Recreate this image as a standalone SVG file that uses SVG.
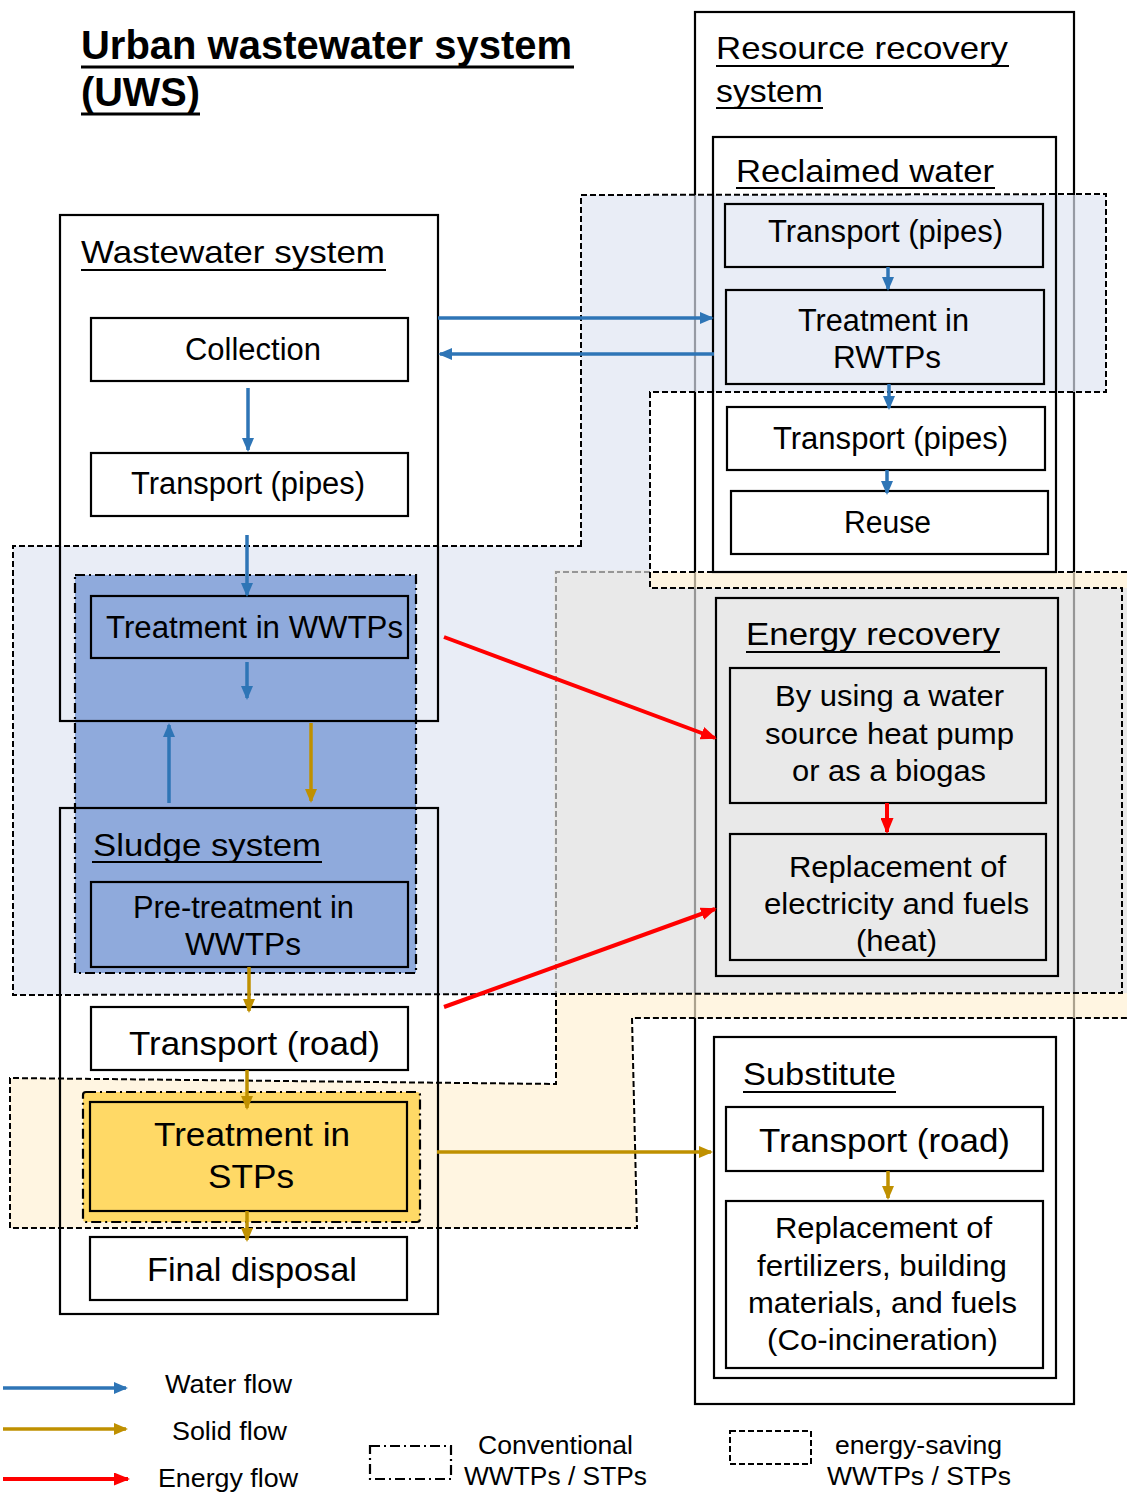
<svg xmlns="http://www.w3.org/2000/svg" width="1127" height="1492" viewBox="0 0 1127 1492">
  <defs>
    <style>
      text { font-family: "Liberation Sans", Arial, sans-serif; fill: #000; }
      .title { font-size: 40px; font-weight: bold; }
      .head { font-size: 32px; }
      .lbl { font-size: 31px; }
      .lbl30 { font-size: 30px; }
      .big { font-size: 33px; }
      .leg { font-size: 25px; }
      .box { fill: none; stroke: #000; stroke-width: 2.2; }
      .wbox { fill: #fff; stroke: #000; stroke-width: 2.2; }
      .ul { stroke: #000; stroke-width: 2; }
      .ul3 { stroke: #000; stroke-width: 3; }
      .save { fill: none; stroke: #000; stroke-width: 2; stroke-dasharray: 6 3; }
      .conv { stroke: #000; stroke-width: 2.2; stroke-dasharray: 10 4 2 4; }
      .water { stroke: #2E75B6; stroke-width: 3.5; fill: none; marker-end: url(#aw); }
      .solid { stroke: #BF9000; stroke-width: 3.5; fill: none; marker-end: url(#as); }
      .energy { stroke: #FF0000; stroke-width: 4; fill: none; marker-end: url(#ae); }
    </style>
    <marker id="aw" markerUnits="userSpaceOnUse" markerWidth="14" markerHeight="12" viewBox="0 0 14 12" refX="12" refY="6" orient="auto">
      <path d="M0,0 L14,6 L0,12 z" fill="#2E75B6"/>
    </marker>
    <marker id="as" markerUnits="userSpaceOnUse" markerWidth="14" markerHeight="12" viewBox="0 0 14 12" refX="12" refY="6" orient="auto">
      <path d="M0,0 L14,6 L0,12 z" fill="#BF9000"/>
    </marker>
    <marker id="ae" markerUnits="userSpaceOnUse" markerWidth="16" markerHeight="13" viewBox="0 0 16 13" refX="14" refY="6.5" orient="auto">
      <path d="M0,0 L16,6.5 L0,13 z" fill="#FF0000"/>
    </marker>
  </defs>

  <!-- outer container of the resource recovery side (drawn under the shaded zones) -->
  <g id="resource-recovery-frame">
    <rect class="box" x="695" y="12" width="379" height="1392"/>
  </g>

  <!-- shaded zones: energy-saving plants -->
  <g id="zones">
    <!-- sludge zone (cream) -->
    <path d="M650,572 L1127,572 L1127,588 L650,588 Z" fill="#FFF0D2" fill-opacity="0.675"/>
    <path d="M555,993 L1127,993 L1127,1018 L632,1018 L637,1228 L10,1228 L10,1078 L556,1084 Z" fill="#FFF0D2" fill-opacity="0.675"/>
    <path class="save" d="M1127,572 L556,572 L556,1084 L10,1078 L10,1228 L637,1228 L632,1018 L1127,1018"/>
    <!-- energy recovery zone (grey) -->
    <path d="M554,570 L650,570 L650,588 L1127,588 L1127,993 L554,993 Z" fill="#DEDEDE" fill-opacity="0.675"/>
    <!-- water zone (light blue) -->
    <path d="M581,195 L1106,195 L1106,392 L650,392 L650,570 L554,570 L554,995 L13,995 L13,546 L581,546 Z" fill="#DEE4F1" fill-opacity="0.675"/>
    <path class="save" d="M581,546 L581,195 L1106,194 L1106,392 L650,392 L650,588 L1122,588 L1122,993 L13,995 L13,546 Z"/>
  </g>

  <!-- conventional plants -->
  <g id="conventional-wwtp">
    <rect class="conv" x="75" y="575" width="341" height="398" fill="#8FAADC"/>
  </g>
  <g id="conventional-stp">
    <rect class="conv" x="83" y="1092" width="337" height="130" rx="3" fill="#FFD966"/>
  </g>

  <!-- title -->
  <g id="title">
    <text class="title" x="81" y="59" textLength="491" lengthAdjust="spacingAndGlyphs">Urban wastewater system</text>
    <line class="ul3" x1="81" y1="67" x2="574" y2="67"/>
    <text class="title" x="81" y="106" textLength="119" lengthAdjust="spacingAndGlyphs">(UWS)</text>
    <line class="ul3" x1="81" y1="114" x2="200" y2="114"/>
  </g>

  <!-- wastewater system -->
  <g id="wastewater-system">
    <rect class="box" x="60" y="215" width="378" height="506"/>
    <text class="head" x="81" y="263" textLength="304" lengthAdjust="spacingAndGlyphs">Wastewater system</text>
    <line class="ul" x1="81" y1="270" x2="386" y2="270"/>
  </g>
  <g id="collection">
    <rect class="wbox" x="91" y="318" width="317" height="63"/>
    <text class="lbl" x="185" y="360" textLength="136" lengthAdjust="spacingAndGlyphs">Collection</text>
  </g>
  <g id="transport-pipes-ww">
    <rect class="wbox" x="91" y="453" width="317" height="63"/>
    <text class="lbl" x="131" y="494" textLength="234" lengthAdjust="spacingAndGlyphs">Transport (pipes)</text>
  </g>
  <g id="treatment-wwtps">
    <rect class="box" x="91" y="596" width="317" height="62"/>
    <text class="lbl" x="106" y="638" textLength="297" lengthAdjust="spacingAndGlyphs">Treatment in WWTPs</text>
  </g>

  <!-- sludge system -->
  <g id="sludge-system">
    <rect class="box" x="60" y="808" width="378" height="506"/>
    <text class="head" x="93" y="856" textLength="228" lengthAdjust="spacingAndGlyphs">Sludge system</text>
    <line class="ul" x1="92" y1="862" x2="322" y2="862"/>
  </g>
  <g id="pre-treatment">
    <rect class="box" x="91" y="882" width="317" height="85"/>
    <text class="lbl" x="133" y="918" textLength="221" lengthAdjust="spacingAndGlyphs">Pre-treatment in</text>
    <text class="lbl" x="185" y="955" textLength="116" lengthAdjust="spacingAndGlyphs">WWTPs</text>
  </g>
  <g id="transport-road-sludge">
    <rect class="wbox" x="91" y="1007" width="317" height="63"/>
    <text class="big" x="129" y="1055" textLength="251" lengthAdjust="spacingAndGlyphs">Transport (road)</text>
  </g>
  <g id="treatment-stps">
    <rect class="box" x="90" y="1102" width="317" height="109" fill="#FFD966"/>
    <text class="big" x="154" y="1146" textLength="196" lengthAdjust="spacingAndGlyphs">Treatment in</text>
    <text class="big" x="208" y="1188" textLength="86" lengthAdjust="spacingAndGlyphs">STPs</text>
  </g>
  <g id="final-disposal">
    <rect class="wbox" x="90" y="1237" width="317" height="63"/>
    <text class="big" x="147" y="1281" textLength="210" lengthAdjust="spacingAndGlyphs">Final disposal</text>
  </g>

  <!-- resource recovery system -->
  <g id="resource-recovery-heading">
    <text class="head" x="716" y="59" textLength="292" lengthAdjust="spacingAndGlyphs">Resource recovery</text>
    <line class="ul" x1="716" y1="66" x2="1009" y2="66"/>
    <text class="head" x="716" y="102" textLength="107" lengthAdjust="spacingAndGlyphs">system</text>
    <line class="ul" x1="716" y1="108" x2="823" y2="108"/>
  </g>
  <g id="reclaimed-water">
    <rect class="box" x="713" y="137" width="343" height="435"/>
    <text class="head" x="736" y="182" textLength="258" lengthAdjust="spacingAndGlyphs">Reclaimed water</text>
    <line class="ul" x1="736" y1="188" x2="995" y2="188"/>
  </g>
  <g id="transport-pipes-rw1">
    <rect class="box" x="725" y="204" width="318" height="63"/>
    <text class="lbl" x="768" y="242" textLength="235" lengthAdjust="spacingAndGlyphs">Transport (pipes)</text>
  </g>
  <g id="treatment-rwtps">
    <rect class="box" x="726" y="290" width="318" height="94"/>
    <text class="lbl" x="798" y="331" textLength="171" lengthAdjust="spacingAndGlyphs">Treatment in</text>
    <text class="lbl" x="833" y="368" textLength="108" lengthAdjust="spacingAndGlyphs">RWTPs</text>
  </g>
  <g id="transport-pipes-rw2">
    <rect class="wbox" x="727" y="407" width="318" height="63"/>
    <text class="lbl" x="773" y="449" textLength="235" lengthAdjust="spacingAndGlyphs">Transport (pipes)</text>
  </g>
  <g id="reuse">
    <rect class="wbox" x="731" y="491" width="317" height="63"/>
    <text class="lbl" x="844" y="533" textLength="87" lengthAdjust="spacingAndGlyphs">Reuse</text>
  </g>

  <g id="energy-recovery">
    <rect class="box" x="716" y="598" width="342" height="378"/>
    <text class="head" x="746" y="645" textLength="254" lengthAdjust="spacingAndGlyphs">Energy recovery</text>
    <line class="ul" x1="746" y1="652" x2="1000" y2="652"/>
  </g>
  <g id="heat-pump-biogas">
    <rect class="box" x="730" y="668" width="316" height="135"/>
    <text class="lbl30" x="775" y="706" textLength="229" lengthAdjust="spacingAndGlyphs">By using a water</text>
    <text class="lbl30" x="765" y="744" textLength="249" lengthAdjust="spacingAndGlyphs">source heat pump</text>
    <text class="lbl30" x="792" y="781" textLength="194" lengthAdjust="spacingAndGlyphs">or as a biogas</text>
  </g>
  <g id="replacement-energy">
    <rect class="box" x="730" y="834" width="316" height="126"/>
    <text class="lbl30" x="789" y="877" textLength="217" lengthAdjust="spacingAndGlyphs">Replacement of</text>
    <text class="lbl30" x="764" y="914" textLength="265" lengthAdjust="spacingAndGlyphs">electricity and fuels</text>
    <text class="lbl30" x="856" y="951" textLength="81" lengthAdjust="spacingAndGlyphs">(heat)</text>
  </g>

  <g id="substitute">
    <rect class="box" x="714" y="1037" width="342" height="341"/>
    <text class="head" x="743" y="1085" textLength="153" lengthAdjust="spacingAndGlyphs">Substitute</text>
    <line class="ul" x1="743" y1="1092" x2="896" y2="1092"/>
  </g>
  <g id="transport-road-sub">
    <rect class="wbox" x="726" y="1107" width="317" height="64"/>
    <text class="big" x="759" y="1152" textLength="251" lengthAdjust="spacingAndGlyphs">Transport (road)</text>
  </g>
  <g id="replacement-materials">
    <rect class="wbox" x="726" y="1201" width="317" height="167"/>
    <text class="lbl30" x="775" y="1238" textLength="217" lengthAdjust="spacingAndGlyphs">Replacement of</text>
    <text class="lbl30" x="757" y="1276" textLength="250" lengthAdjust="spacingAndGlyphs">fertilizers, building</text>
    <text class="lbl30" x="748" y="1313" textLength="269" lengthAdjust="spacingAndGlyphs">materials, and fuels</text>
    <text class="lbl30" x="767" y="1350" textLength="231" lengthAdjust="spacingAndGlyphs">(Co-incineration)</text>
  </g>

  <!-- flows -->
  <g id="connectors">
    <line class="water" x1="248" y1="388" x2="248" y2="450"/>
    <line class="water" x1="247" y1="535" x2="247" y2="595"/>
    <line class="water" x1="247" y1="662" x2="247" y2="698"/>
    <line class="water" x1="169" y1="803" x2="169" y2="725"/>
    <line class="water" x1="438" y1="318" x2="712" y2="318"/>
    <line class="water" x1="714" y1="354" x2="440" y2="354"/>
    <line class="water" x1="888" y1="267" x2="888" y2="289"/>
    <line class="water" x1="889" y1="384" x2="889" y2="408"/>
    <line class="water" x1="887" y1="470" x2="887" y2="493"/>

    <line class="solid" x1="311" y1="723" x2="311" y2="801"/>
    <line class="solid" x1="249" y1="967" x2="249" y2="1011"/>
    <line class="solid" x1="247" y1="1070" x2="247" y2="1108"/>
    <line class="solid" x1="247" y1="1211" x2="247" y2="1240"/>
    <line class="solid" x1="437" y1="1152" x2="711" y2="1152"/>
    <line class="solid" x1="888" y1="1171" x2="888" y2="1198"/>

    <line class="energy" x1="444" y1="637" x2="715" y2="738"/>
    <line class="energy" x1="444" y1="1007" x2="715" y2="909"/>
    <line class="energy" x1="887" y1="803" x2="887" y2="832"/>
  </g>

  <!-- legend -->
  <g id="legend">
    <line class="water" x1="3" y1="1388" x2="126" y2="1388"/>
    <text class="leg" x="165" y="1393" textLength="127" lengthAdjust="spacingAndGlyphs">Water flow</text>
    <line class="solid" x1="3" y1="1429" x2="126" y2="1429"/>
    <text class="leg" x="172" y="1440" textLength="115" lengthAdjust="spacingAndGlyphs">Solid flow</text>
    <line class="energy" x1="3" y1="1479" x2="128" y2="1479"/>
    <text class="leg" x="158" y="1487" textLength="140" lengthAdjust="spacingAndGlyphs">Energy flow</text>
    <rect class="conv" x="370" y="1446" width="81" height="33" fill="none" stroke-width="1.6"/>
    <text class="leg" x="478" y="1454" textLength="155" lengthAdjust="spacingAndGlyphs">Conventional</text>
    <text class="leg" x="464" y="1485" textLength="183" lengthAdjust="spacingAndGlyphs">WWTPs / STPs</text>
    <rect class="save" x="730" y="1431" width="81" height="33"/>
    <text class="leg" x="835" y="1454" textLength="167" lengthAdjust="spacingAndGlyphs">energy-saving</text>
    <text class="leg" x="827" y="1485" textLength="184" lengthAdjust="spacingAndGlyphs">WWTPs / STPs</text>
  </g>
</svg>
